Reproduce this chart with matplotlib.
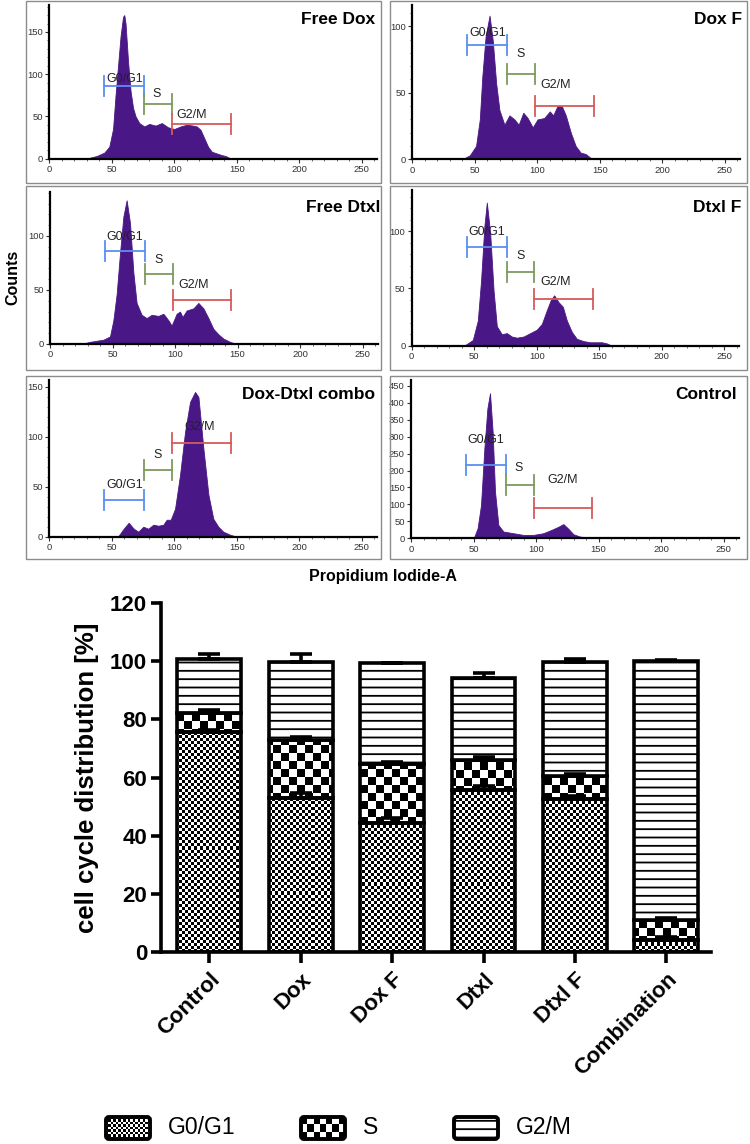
import numpy as np
import matplotlib
matplotlib.use("Agg")
import matplotlib.pyplot as plt
from matplotlib.patches import Rectangle, FancyBboxPatch
from matplotlib.ticker import MultipleLocator

W, H = 750, 1144

# ---- flow histograms: PI-A (x1000) vs counts
free_dox_x = [0, 30, 38, 44, 48, 51, 53, 55, 57, 59, 60, 61, 63, 65, 67, 69, 72, 76, 80, 85,
              90, 95, 100, 105, 110, 115, 118, 121, 124, 127, 130, 134, 138, 141, 145, 262]
free_dox_y = [0, 0, 3, 7, 14, 35, 75, 110, 145, 168, 170, 160, 115, 80, 60, 50, 42, 38, 41, 39,
              42, 37, 35, 38, 40, 39, 38, 34, 24, 14, 8, 6, 4, 3, 0, 0]

dox_f_x = [0, 40, 46, 51, 54, 56, 58.6, 61.8, 64.4, 67.1, 69.7, 73.7, 77.7, 81.7, 85.1, 88.8,
           92.3, 96.3, 100.2, 105.5, 110, 112.7, 116.1, 119.6, 122.8, 126.8, 130.7, 134.7,
           138.7, 141.4, 144, 262]
dox_f_y = [0, 0, 3, 10, 30, 62, 92, 108, 89, 57, 37, 26, 33, 30, 26, 35,
           31, 24, 30, 31, 36, 33, 40, 40, 33, 20, 10, 5,
           4, 2, 0, 0]

free_dtxl_x = [0, 25, 32, 42.7, 48, 50.7, 53.3, 56, 58.7, 61.3, 64, 66.7, 69.3, 73.3, 77.3, 81.3,
               86.7, 90.7, 94.7, 97.3, 101.3, 104, 106, 109.3, 114.7, 118.7, 122.7, 126.7, 130.7,
               134.7, 138.7, 144, 149, 262]
free_dtxl_y = [0, 0, 2, 4, 7, 22, 46, 84, 118, 133, 112, 66, 38, 27, 24, 27,
               26, 28, 22, 17, 28, 30, 25, 31, 33, 38, 33, 24, 14,
               9, 5, 2, 0, 0]

dtxl_f_x = [0, 42, 48.9, 52.9, 55.5, 58.1, 60.1, 62.8, 65.5, 68.1, 72.1, 76.1, 80.1, 84.1, 89.5,
            94.8, 100.1, 104.1, 108.1, 111.3, 114, 117.5, 120.9, 124.1, 128.1, 132.1, 137.5,
            142.8, 148.1, 152.1, 156.1, 160.1, 262]
dtxl_f_y = [0, 0, 5, 22, 57, 104, 125, 98, 48, 17, 10, 11, 8, 7, 8,
            11, 14, 19, 31, 40, 44, 38, 34, 22, 12, 6, 4,
            3, 3, 3, 2, 0, 0]

combo_x = [0, 52, 55.5, 59.5, 63.5, 67.5, 71.2, 75.2, 79.2, 83.2, 87.2, 91.2, 93.9, 97.1, 100.6,
           104.6, 108.6, 112.6, 116.6, 119.3, 123.3, 127.3, 131.2, 135.2, 139.2, 144.6, 149.9, 262]
combo_y = [0, 0, 1, 8, 14, 8, 5, 10, 8, 12, 11, 12, 17, 17, 28,
           62, 105, 135, 145, 140, 88, 42, 18, 10, 5, 2, 0, 0]

control_x = [0, 48, 50.7, 53.3, 56, 58.7, 61.1, 63.2, 65.3, 67.2, 69.9, 73.9, 81.9, 89.9, 97.9,
             105.9, 112.5, 117.9, 121.9, 125.9, 129.9, 135.2, 143.2, 161.9, 188.5, 202, 262]
control_y = [0, 0, 5, 30, 98, 265, 383, 428, 315, 138, 39, 20, 15, 10, 10,
             15, 25, 34, 42, 28, 12, 5, 2, 2, 1, 0.5, 0]

# gate levels (counts) for G0/G1, S, G2/M in each panel
gate_names = ["G0/G1", "S", "G2/M"]
gate_ranges = [(44, 76), (76, 98), (98, 145)]
free_dox_gates = [86, 65, 41]
dox_f_gates = [86, 64.5, 40]
free_dtxl_gates = [86, 64.5, 41]
dtxl_f_gates = [86, 64.5, 41]
combo_gates = [37, 67, 94]
control_gates = [216, 157, 88]

# ---- stacked bar chart
groups = ["Control", "Dox", "Dox F", "Dtxl", "Dtxl F", "Combination"]
g0g1 = np.array([75.5, 53.0, 44.5, 55.8, 52.5, 4.2])
s_phase = np.array([6.8, 20.0, 20.0, 10.2, 8.0, 6.8])
g2m = np.array([18.5, 26.7, 34.7, 28.3, 39.2, 88.9])
g0g1_err = np.array([1.0, 1.5, 1.5, 1.3, 1.2, 0.8])
s_err = np.array([0.8, 1.0, 0.8, 1.2, 0.8, 0.8])
g2m_err = np.array([1.8, 2.8, 0.3, 1.5, 1.2, 0.6])

PURPLE = "#4a1786"
GATE_COLORS = ["#5b8ff0", "#7c9a5e", "#d65a5a"]
NARROW = ["Liberation Sans Narrow", "Liberation Sans", "DejaVu Sans"]
plt.rcParams["font.family"] = ["Liberation Sans", "DejaVu Sans"]
plt.rcParams["hatch.linewidth"] = 1.3


def fig_box(left, top, right, bottom):
    return [left / W, 1 - bottom / H, (right - left) / W, (bottom - top) / H]


def checker(ny, nx):
    return (np.indices((ny, nx)).sum(axis=0) % 2).astype(float)


fig = plt.figure(figsize=(W / 100, H / 100), dpi=100)

# panel: title, data, ymax, ytick step, axes box (left, top, bottom px), frame, title pos, gates, labels
panels = [
    ("Free Dox", free_dox_x, free_dox_y, 182, 50, (49.3, 5, 158.5), (26, 1, 381, 183), (375, 20),
     free_dox_gates, [(60, 94), (86, 76), (114, 52)]),
    ("Dox F", dox_f_x, dox_f_y, 116, 50, (412.3, 5, 159.3), (390, 1, 747, 183), (742, 20),
     dox_f_gates, [(60, 95), (87, 79.5), (115, 56)]),
    ("Free Dtxl", free_dtxl_x, free_dtxl_y, 141, 50, (50, 191.7, 344), (26, 186, 381, 370), (380, 207),
     free_dtxl_gates, [(60, 99), (87, 78), (115, 54.6)]),
    ("Dtxl F", dtxl_f_x, dtxl_f_y, 136, 50, (411.7, 190, 345.7), (390, 186, 747, 370), (741, 207),
     dtxl_f_gates, [(60, 99), (87, 78), (115, 55.5)]),
    ("Dox-Dtxl combo", combo_x, combo_y, 157, 50, (49.3, 380, 536.7), (26, 376, 381, 559), (375, 395),
     combo_gates, [(60, 52), (87, 81.7), (120, 110)]),
    ("Control", control_x, control_y, 467, 50, (411, 380, 538.3), (390, 376, 747, 559), (737, 395),
     control_gates, [(60, 290), (86, 208), (121, 172)]),
]

for title, hx, hy, ymax, step, (l, t, b), frame, tpos, levels, labels in panels:
    fx0, fy0, fx1, fy1 = frame
    fig.add_artist(Rectangle((fx0 / W, 1 - fy1 / H), (fx1 - fx0) / W, (fy1 - fy0) / H,
                             transform=fig.transFigure, fill=False, ec="#8c8c8c", lw=1.0))
    ax = fig.add_axes(fig_box(l, t, l + 262 * 1.25, b))
    ax.fill_between(hx, hy, 0, color=PURPLE, lw=0.6)
    ax.set_xlim(0, 262)
    ax.set_ylim(0, ymax)
    ax.xaxis.set_major_locator(MultipleLocator(50))
    ax.xaxis.set_minor_locator(MultipleLocator(10))
    ax.yaxis.set_major_locator(MultipleLocator(step))
    if ymax < 200:
        ax.yaxis.set_minor_locator(MultipleLocator(10))
    for side in ("top", "right"):
        ax.spines[side].set_visible(False)
    for side in ("left", "bottom"):
        ax.spines[side].set_linewidth(1.6)
    ax.tick_params(which="major", length=3, width=0.8, pad=1.5, labelsize=6.8, colors="#333333")
    ax.tick_params(which="minor", length=1.6, width=0.6, colors="#555555")
    for lab in ax.get_xticklabels() + ax.get_yticklabels():
        lab.set_family(NARROW)
    cap = 10 * ymax / (b - t)
    for (x0, x1), lvl, col, (lx, ly), name in zip(gate_ranges, levels, GATE_COLORS, labels, gate_names):
        ax.plot([x0, x1], [lvl, lvl], color=col, lw=1.3)
        ax.plot([x0, x0], [lvl - cap, lvl + cap], color=col, lw=1.3)
        ax.plot([x1, x1], [lvl - cap, lvl + cap], color=col, lw=1.3)
        ax.text(lx, ly, name, ha="center", va="center", fontsize=9, color="#222222", family=NARROW)
    fig.text(tpos[0] / W, 1 - tpos[1] / H, title, ha="right", va="center",
             fontsize=12.5, fontweight="bold")

fig.text(13 / W, 1 - 277 / H, "Counts", rotation=90, ha="center", va="center",
         fontsize=11.5, fontweight="bold")
fig.text(383 / W, 1 - 576 / H, "Propidium Iodide-A", ha="center", va="center",
         fontsize=11.5, fontweight="bold")

# ---- bar chart
bax = fig.add_axes(fig_box(161, 603, 711, 952))
xpos = np.arange(len(groups))
bw = 0.70
edge = dict(edgecolor="black", linewidth=2.6)
b1 = bax.bar(xpos, g0g1, bw, facecolor="none", zorder=3, **edge)
b2 = bax.bar(xpos, s_phase, bw, bottom=g0g1, facecolor="none", zorder=3, **edge)
b3 = bax.bar(xpos, g2m, bw, bottom=g0g1 + s_phase, facecolor="white", hatch="--", zorder=3, **edge)

xlim = (-0.53, 5.49)
ylim = (0, 120)
extent = (xlim[0], xlim[1], ylim[0], ylim[1])
for bars, cell in ((b1, 3), (b2, 8)):
    arr = checker(int(round(349 / cell)), int(round(550 / cell)))
    for p in bars:
        im = bax.imshow(arr, cmap="gray", vmin=0, vmax=1, extent=extent, aspect="auto",
                        interpolation="nearest", zorder=2)
        im.set_clip_path(p)

tops = [g0g1, g0g1 + s_phase, g0g1 + s_phase + g2m]
for top, err in zip(tops, (g0g1_err, s_err, g2m_err)):
    bax.errorbar(xpos, top, yerr=[np.zeros_like(err), err], fmt="none", ecolor="black",
                 elinewidth=2.6, capsize=8, capthick=2.6, zorder=4)

bax.set_xlim(*xlim)
bax.set_ylim(*ylim)
bax.yaxis.set_major_locator(MultipleLocator(20))
bax.set_xticks(xpos)
bax.set_xticklabels(groups, rotation=45, ha="right", va="top", rotation_mode="anchor",
                    fontsize=16, fontweight="bold")
for lab in bax.get_yticklabels():
    lab.set_fontweight("bold")
for side in ("top", "right"):
    bax.spines[side].set_visible(False)
for side in ("left", "bottom"):
    bax.spines[side].set_linewidth(2.6)
bax.tick_params(axis="y", length=7, width=2.6, labelsize=16, pad=3)
bax.tick_params(axis="x", length=8, width=2.6, pad=4)
bax.set_ylabel("cell cycle distribution [%]", fontsize=18.5, fontweight="bold", labelpad=8)

# ---- legend (drawn by hand so the checker fills show)
lax = fig.add_axes([0, 0, 1, 50 / H])
lax.axis("off")
legend_items = [(106, 3, "G0/G1"), (301, 8, "S"), (454, None, "G2/M")]
for x0, cell, name in legend_items:
    box = FancyBboxPatch((x0, 5), 44, 22, boxstyle="round,pad=0,rounding_size=3",
                         facecolor="white" if cell is None else "none",
                         hatch="--" if cell is None else None, edgecolor="black", lw=2.8, zorder=3)
    lax.add_patch(box)
    if cell is not None:
        arr = checker(int(round(22 / (cell * 0.8))), int(round(44 / (cell * 0.8))))
        im = lax.imshow(arr, cmap="gray", vmin=0, vmax=1, extent=(x0, x0 + 44, 5, 27),
                        aspect="auto", interpolation="nearest", zorder=2)
        im.set_clip_path(box)
    lax.text(x0 + 62, 16, name, ha="left", va="center", fontsize=16.5)
lax.set_xlim(0, W)
lax.set_ylim(0, 50)

fig.savefig("out.png", dpi=100)
